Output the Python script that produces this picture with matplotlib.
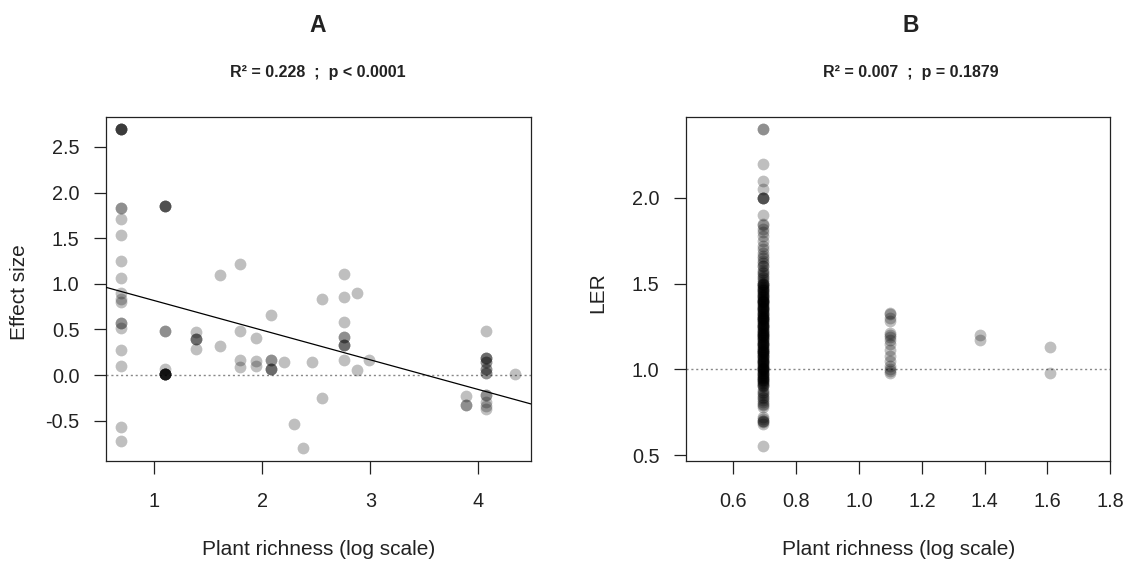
import matplotlib
matplotlib.use("Agg")
import matplotlib.pyplot as plt

plt.rcParams['font.family'] = ['Liberation Sans', 'DejaVu Sans']
plt.rcParams['axes.unicode_minus'] = False

# ---------------- Panel A data: plant richness (log) vs effect size ----------------
a_richness = [
    0.693, 0.693, 0.693, 0.693, 0.693, 0.693, 0.693, 0.693, 0.693, 0.693, 0.693,
    0.693, 0.693, 0.693, 0.693, 0.693, 0.693, 0.693, 0.693, 0.693, 0.693,
    1.099, 1.099, 1.099, 1.099, 1.099, 1.099, 1.099, 1.099, 1.099, 1.099, 1.099,
    1.099, 1.099, 1.099, 1.099,
    1.386, 1.386, 1.386, 1.386, 1.386,
    1.609, 1.609,
    1.792, 1.792, 1.792, 1.792,
    1.946, 1.946, 1.946,
    2.079, 2.079, 2.079, 2.079, 2.079, 2.079,
    2.197,
    2.292,
    2.378,
    2.462,
    2.556, 2.556,
    2.756, 2.756, 2.756, 2.756, 2.756, 2.756, 2.756, 2.756, 2.756,
    2.877, 2.877,
    2.990,
    3.883, 3.883, 3.883,
    4.068, 4.068, 4.068, 4.068, 4.068, 4.068, 4.068, 4.068, 4.068, 4.068,
    4.068, 4.068, 4.068, 4.068, 4.068,
    4.340,
]
a_effect = [
    2.695, 2.695, 2.695, 2.695, 2.695, 1.834, 1.834, 1.706, 1.530, 1.254, 1.068,
    0.904, 0.830, 0.800, 0.569, 0.569, 0.521, 0.280, 0.105, -0.573, -0.719,
    1.852, 1.852, 1.852, 1.852, 0.485, 0.485, 0.065, 0.014, 0.014, 0.014, 0.014,
    0.014, 0.014, 0.014, 0.014,
    0.470, 0.394, 0.394, 0.394, 0.290,
    1.094, 0.317,
    1.218, 0.481, 0.167, 0.094,
    0.405, 0.156, 0.105,
    0.656, 0.171, 0.171, 0.065, 0.065, 0.065,
    0.142,
    -0.533,
    -0.799,
    0.142,
    0.831, -0.245,
    1.108, 0.853, 0.583, 0.422, 0.422, 0.328, 0.328, 0.328, 0.167,
    0.904, 0.058,
    0.167,
    -0.226, -0.332, -0.332,
    0.485, 0.186, 0.186, 0.186, 0.142, 0.142, 0.065, 0.065, 0.022, 0.022,
    -0.215, -0.215, -0.289, -0.336, -0.372,
    0.014,
]
a_fit_intercept = 1.141
a_fit_slope = -0.3245
a_xticks = [1, 2, 3, 4]
a_yticks = [-0.5, 0.0, 0.5, 1.0, 1.5, 2.0, 2.5]
a_title = "A"
a_subtitle = "R\u00b2 = 0.228  ;  p < 0.0001"

# ---------------- Panel B data: plant richness (log) vs LER ----------------
b_ler_2sp = [
    2.40, 2.40, 2.20, 2.10, 2.05, 2.00, 2.00, 2.00, 2.00, 1.90, 1.85, 1.84,
    1.82, 1.80, 1.78, 1.75, 1.72, 1.70, 1.68, 1.66, 1.65, 1.63, 1.62, 1.60,
    1.58, 1.57, 1.55, 1.54, 1.52, 1.51, 1.50, 1.50, 1.49, 1.48, 1.47, 1.46,
    1.45, 1.44, 1.43, 1.42, 1.41, 1.40, 1.40, 1.39, 1.38, 1.37, 1.36, 1.35,
    1.34, 1.33, 1.32, 1.31, 1.30, 1.30, 1.29, 1.28, 1.27, 1.26, 1.25, 1.24,
    1.23, 1.22, 1.21, 1.20, 1.20, 1.19, 1.18, 1.17, 1.16, 1.15, 1.14, 1.13,
    1.12, 1.11, 1.10, 1.10, 1.09, 1.08, 1.07, 1.06, 1.05, 1.04, 1.03, 1.02,
    1.01, 1.00, 1.00, 0.99, 0.98, 0.97, 0.96, 0.95, 0.94, 0.93, 0.92, 0.91,
    0.90, 0.88, 0.86, 0.84, 0.83, 0.82, 0.80, 0.78, 0.72, 0.71, 0.70, 0.68,
    0.55,
    1.495, 1.485, 1.475, 1.465, 1.455, 1.445, 1.435, 1.425, 1.415, 1.405,
    1.395, 1.385, 1.375, 1.365, 1.355, 1.345, 1.335, 1.325, 1.315, 1.305,
    1.295, 1.285, 1.275, 1.265, 1.255, 1.245, 1.235, 1.225, 1.215, 1.205,
    1.195, 1.185, 1.175, 1.165, 1.155, 1.145, 1.135, 1.125, 1.115, 1.105,
    1.095, 1.085, 1.075, 1.065, 1.055, 1.045, 1.035, 1.025, 1.015, 1.005,
    0.995, 0.985, 0.975, 0.965, 0.955, 0.945, 0.935, 0.925, 0.915, 0.905,
    1.40, 1.35, 1.30, 1.25, 1.20, 1.15, 1.10, 1.05, 1.00, 0.95,
    0.87, 0.85, 0.81, 0.79, 0.70, 0.69, 1.60, 1.56, 1.53,
]
b_ler_3sp = [1.33, 1.32, 1.30, 1.28, 1.21, 1.20, 1.19, 1.17, 1.15, 1.11,
             1.08, 1.05, 1.02, 1.00, 0.99, 0.98]
b_ler_4sp = [1.20, 1.17]
b_ler_5sp = [1.13, 0.98]
b_richness_levels = [0.693, 1.099, 1.386, 1.609]
b_xticks = [0.6, 0.8, 1.0, 1.2, 1.4, 1.6, 1.8]
b_yticks = [0.5, 1.0, 1.5, 2.0]
b_title = "B"
b_subtitle = "R\u00b2 = 0.007  ;  p = 0.1879"

b_groups = [b_ler_2sp, b_ler_3sp, b_ler_4sp, b_ler_5sp]
b_x = []
b_y = []
for lvl, grp in zip(b_richness_levels, b_groups):
    b_x.extend([lvl] * len(grp))
    b_y.extend(grp)

# ---------------- Figure ----------------
W, H = 1131, 564
fig = plt.figure(figsize=(W / 100, H / 100), dpi=100)

def px_axes(l, t, r, b):
    return fig.add_axes([l / W, 1 - b / H, (r - l) / W, (b - t) / H])

axA = px_axes(105.7, 116.7, 530.7, 461.0)
axB = px_axes(686.0, 116.7, 1110.3, 461.0)

pt_size = 72
pt_alpha = 0.25

def style(ax):
    for s in ax.spines.values():
        s.set_linewidth(0.9)
        s.set_color('#222222')
    ax.tick_params(axis='both', direction='out', length=9, width=0.9,
                   color='#222222', labelsize=14.3, labelcolor='#222222')
    ax.tick_params(axis='x', pad=13)
    ax.tick_params(axis='y', pad=10)

# Panel A
axA.scatter(a_richness, a_effect, s=pt_size, c='black', alpha=pt_alpha,
            linewidths=0, zorder=2)
axA.axhline(0, color='#888888', lw=1.0, ls=(0, (1.5, 2.0)), zorder=1)
axA.axline((0, a_fit_intercept), slope=a_fit_slope, color='black', lw=0.9, zorder=3)
axA.set_xlim(0.55, 4.485)
axA.set_ylim(-0.94, 2.83)
axA.set_xticks(a_xticks)
axA.set_xticklabels([str(v) for v in a_xticks])
axA.set_yticks(a_yticks)
axA.set_yticklabels([f"{v:.1f}" for v in a_yticks])
style(axA)
axA.set_xlabel("Plant richness (log scale)", fontsize=15, labelpad=21, color='#222222')
axA.set_ylabel("Effect size", fontsize=15, color='#222222', va='center')
axA.yaxis.set_label_coords(-86 / 425, 0.49)

# Panel B
axB.scatter(b_x, b_y, s=pt_size, c='black', alpha=pt_alpha, linewidths=0, zorder=2)
axB.axhline(1.0, color='#888888', lw=1.0, ls=(0, (1.5, 2.0)), zorder=1)
axB.set_xlim(0.449, 1.8)
axB.set_ylim(0.465, 2.474)
axB.set_xticks(b_xticks)
axB.set_xticklabels([f"{v:.1f}" for v in b_xticks])
axB.set_yticks(b_yticks)
axB.set_yticklabels([f"{v:.1f}" for v in b_yticks])
style(axB)
axB.set_xlabel("Plant richness (log scale)", fontsize=15, labelpad=21, color='#222222')
axB.set_ylabel("LER", fontsize=15, color='#222222', va='center')
axB.yaxis.set_label_coords(-88 / 424.3, 0.49)

# Titles
fig.text(318 / W, 1 - 26 / H, a_title, ha='center', va='center', fontsize=16.5,
         fontweight='bold', color='#222222')
fig.text(318 / W, 1 - 72 / H, a_subtitle, ha='center', va='center', fontsize=11.5,
         fontweight='bold', color='#222222')
fig.text(911 / W, 1 - 26 / H, b_title, ha='center', va='center', fontsize=16.5,
         fontweight='bold', color='#222222')
fig.text(911 / W, 1 - 72 / H, b_subtitle, ha='center', va='center', fontsize=11.5,
         fontweight='bold', color='#222222')

fig.savefig("out.png", dpi=100)
